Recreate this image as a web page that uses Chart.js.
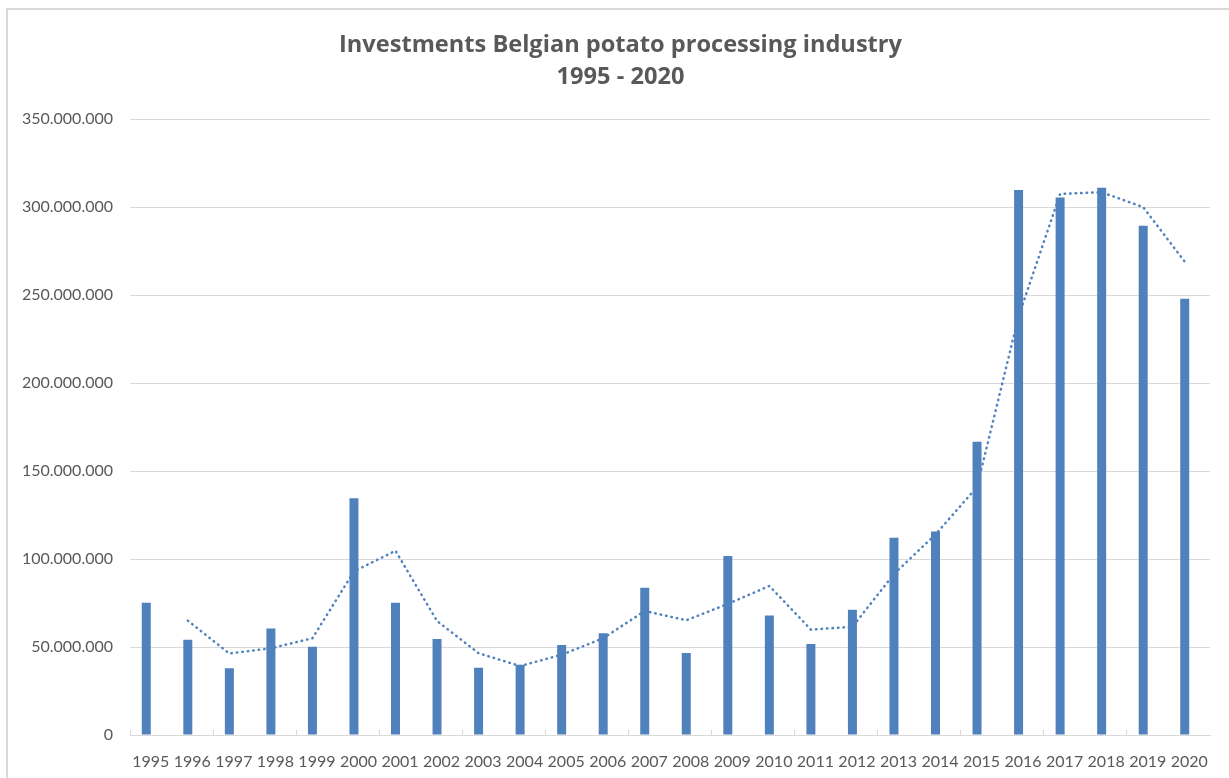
<!DOCTYPE html>
<html><head><meta charset="utf-8">
<script src="https://cdn.jsdelivr.net/npm/chart.js@4.4.1/dist/chart.umd.min.js"></script>
<style>
html,body{margin:0;padding:0;background:#fff;overflow:hidden;width:1229px;height:778px;}
#frame{position:absolute;left:6px;top:8px;width:1400px;height:900px;border:2px solid #d9d9d9;box-sizing:border-box;}
#wrap{position:absolute;left:0;top:0;width:1226px;height:778px;}
</style></head><body>
<div id="frame"></div>
<div id="wrap"><canvas id="c" width="1226" height="778"></canvas></div>
<script>
const years = ['1995','1996','1997','1998','1999','2000','2001','2002','2003','2004','2005','2006','2007','2008','2009','2010','2011','2012','2013','2014','2015','2016','2017','2018','2019','2020'];
const investments = [75100000, 54200000, 37900000, 60600000, 50200000, 134500000, 75100000, 54600000, 38200000, 39900000, 51100000, 57800000, 83700000, 46600000, 101700000, 67900000, 51700000, 71200000, 112100000, 115600000, 166700000, 309800000, 305500000, 311000000, 289400000, 248000000];
const movingAverage = [null, 65000000, 46300000, 49300000, 55000000, 93000000, 104700000, 64800000, 46500000, 39200000, 45600000, 55000000, 70500000, 65200000, 74500000, 84700000, 59900000, 61500000, 91500000, 114000000, 141000000, 238000000, 307500000, 308500000, 300000000, 269000000];
const titleLines = ['Investments Belgian potato processing industry', '1995 - 2020'];
const yMin = 0, yMax = 350000000, yStep = 50000000;

const fmt = v => String(v).replace(/\B(?=(\d{3})+(?!\d))/g, '.');
const grey = '#595959';
const gridGrey = '#d9d9d9';
const blue = '#4f81bd';

const chart = new Chart(document.getElementById('c'), {
  data: {
    labels: years,
    datasets: [
      {
        type: 'line',
        label: 'Moving average',
        data: years.map((y, i) => ({x: Number(y), y: movingAverage[i]})),
        xAxisID: 'x2',
        yAxisID: 'y',
        borderColor: blue,
        borderWidth: 2.5,
        borderDash: [0.5, 5],
        borderCapStyle: 'round',
        pointRadius: 0,
        tension: 0,
        fill: false,
        order: 0
      },
      {
        type: 'bar',
        label: 'Investments',
        data: investments,
        xAxisID: 'x',
        yAxisID: 'y',
        backgroundColor: blue,
        borderWidth: 0,
        categoryPercentage: 0.866,
        barPercentage: 1.0,
        order: 1
      },
      {
        type: 'bar',
        label: '',
        data: years.map(() => null),
        xAxisID: 'x',
        yAxisID: 'y',
        backgroundColor: 'rgba(0,0,0,0)',
        categoryPercentage: 0.866,
        barPercentage: 1.0,
        order: 2
      }
    ]
  },
  options: {
    responsive: false,
    animation: false,
    layout: {padding: {left: 15, right: 0, top: 0, bottom: 0}},
    plugins: {
      legend: {display: false},
      tooltip: {enabled: false},
      title: {
        display: true,
        text: titleLines,
        color: grey,
        font: {family: 'Open Sans', size: 23.6, weight: 'bold', lineHeight: 1.36},
        padding: {top: 29, bottom: 26}
      }
    },
    scales: {
      x: {
        type: 'category',
        offset: true,
        grid: {
          display: true,
          drawOnChartArea: false,
          drawTicks: true,
          tickLength: -5,
          offset: true,
          color: ctx => (ctx.index % 2 === 0 ? gridGrey : 'rgba(0,0,0,0)')
        },
        border: {display: true, color: gridGrey, width: 1},
        ticks: {color: grey, font: {family: 'Lato', size: 16}, padding: 22, maxRotation: 0, autoSkip: false},
        afterFit: s => { s.height = 43; s.paddingLeft = 0; s.paddingRight = 16; }
      },
      x2: {
        type: 'linear',
        display: false,
        offset: false,
        min: 1994.608,
        max: 2020.608
      },
      y: {
        type: 'linear',
        min: yMin,
        max: yMax,
        ticks: {stepSize: yStep, color: grey, font: {family: 'Lato', size: 16}, padding: 17, callback: v => fmt(v)},
        grid: {color: gridGrey, lineWidth: 1, drawTicks: false},
        border: {display: false},
        afterFit: s => { s.width = 115; }
      }
    }
  }
});
</script>
</body></html>
